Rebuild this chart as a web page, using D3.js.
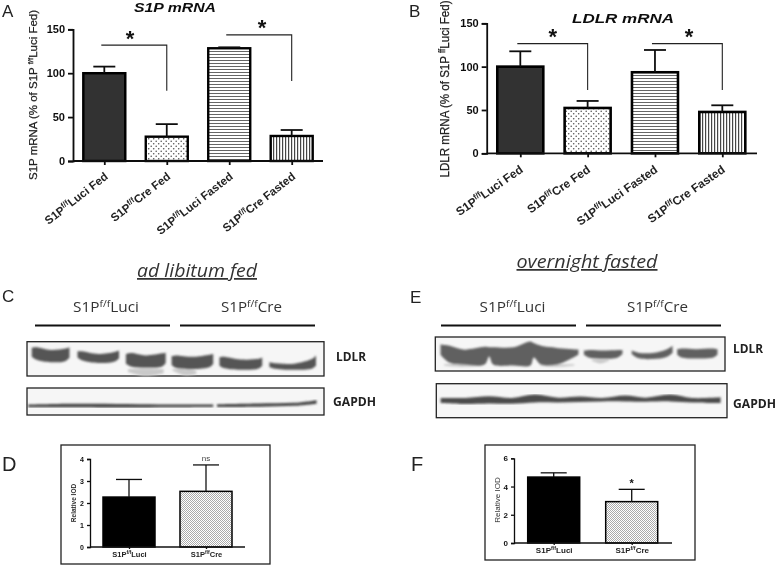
<!DOCTYPE html>
<html><head><meta charset="utf-8"><script src="https://cdn.jsdelivr.net/npm/d3@7"></script>
<style>html,body{margin:0;padding:0;background:#fff}svg{display:block}text{font-family:"Liberation Sans",Arial,sans-serif}</style>
</head><body><svg id="c" width="778" height="566"></svg>
<script>
// ---- data ----
const mrnaCategories = ["Luci Fed","Cre Fed","Luci Fasted","Cre Fasted"];
const s1pValues = [100,27.7,128.4,28.5];
const s1pErrorTops = [107.5,42,129.5,35.3];
const s1pBrackets = [[0,1,132,80],[2,3,143.6,91]];
const ldlrValues = [100,52.3,93.5,47.7];
const ldlrErrorTops = [117.7,60.4,119.2,55.4];
const ldlrBrackets = [[0,1,126.5,73],[2,3,126.5,73]];
const mrnaTicks = [0,50,100,150];
const iodCategories = ["Luci","Cre"];
const fedValues = [2.27,2.53];
const fedErrorTops = [3.07,3.73];
const fedTicks = [0,1,2,3,4];
const fastedValues = [4.67,2.93];
const fastedErrorTops = [4.97,3.8];
const fastedTicks = [0,2,4,6];
// blot bands: [lane %, upper edge %, lower edge %]
const blotCLdlr = [
 [[1.6,18,44],[3,16,52],[8,24,60],[13,20,56],[14.3,16,46]],
 [[17,28,46],[18.5,28,54],[24,36,62],[29.5,30,58],[31,26,48]],
 [[33.3,36,64],[35,33,72],[40,40,76],[45.5,34,72],[46.7,32,62]],
 [[48.7,42,68],[50,40,76],[56,44,80],[61.5,38,74],[62.7,36,64]],
 [[64.8,46,70],[66,44,76],[72,52,82],[78,50,78],[79.2,46,70]],
 [[81.6,60,74],[83,62,78],[90,64,82],[96,50,78],[97.3,40,70]]];
const blotCSmears = [[[34,80,88],[40,78,100],[46,80,92]],[[49,80,84],[53,80,98],[57,84,94]]];
const blotCGapdh = [
 [[0.4,61,71],[14.9,58,71],[33.7,59,72],[48,61,71],[62.7,61,70]],
 [[64,60,70],[78,57,69],[90,55,66],[97.5,45,58]]];
const blotELdlr = [
 [[1.8,22,52],[5,26,76],[9.6,37,81],[17,29,81],[18.6,30,57],[20,30,81],[27,30,84],[32.8,13,84],[34,18,60],[36.5,26,81],[42,32,81],[49.4,37,52]],
 [[51.3,40,52],[53,38,60],[58,40,64],[63,38,60],[64.6,38,50]],
 [[67.8,40,50],[70,46,62],[75,47,65],[80,36,58],[81.9,26,46]],
 [[83.5,36,52],[85,34,60],[90,36,63],[96,34,60],[97.4,36,52]]];
const blotESmears = [[[3,80,84],[9,78,88],[16,78,84]],[[36,80,84],[42,80,88],[48,80,84]],[[54,66,70],[57,66,78],[60,66,70]]];
const blotEGapdh = [[[1.5,42,57],[10,42,60],[18,37,58],[26,42,59],[34,32,55],[42,41,55],[49.5,38,54],[57,42,52],[65,35,52],[72,41,53],[80.5,32,52],[88,42,55],[97.8,40,57]]];
const s1pYLabel = ["S1P mRNA  (% of S1P ","f/f","Luci Fed)"];
const ldlrYLabel = ["LDLR mRNA  (% of S1P ","ff","Luci Fed)"];

// ---- helpers ----
const svg = d3.select("#c");
const defs = svg.append("defs");
function blur(id,s){defs.append("filter").attr("id",id).attr("x","-5%").attr("y","-5%").attr("width","110%").attr("height","110%")
  .append("feGaussianBlur").attr("stdDeviation",s);}
blur("soft",0.45); blur("soft2",0.6); blur("band",0.9);
function pattern(id,w,h,draw){const p=defs.append("pattern").attr("id",id).attr("patternUnits","userSpaceOnUse").attr("width",w).attr("height",h);
  p.append("rect").attr("width",w).attr("height",h).attr("fill","#fff");draw(p);}
pattern("dots",5,5,p=>{[[1.2,1.2],[3.7,3.7]].forEach(c=>p.append("circle").attr("cx",c[0]).attr("cy",c[1]).attr("r",.8).attr("fill","#555"));});
pattern("hstr",3,3,p=>p.append("rect").attr("width",3).attr("height",1).attr("fill","#666"));
pattern("vstr",3,3,p=>p.append("rect").attr("width",1.2).attr("height",3).attr("fill","#444"));
pattern("fine",2,2,p=>{p.append("rect").attr("width",1).attr("height",1).attr("fill","#aaa");p.append("rect").attr("x",1).attr("y",1).attr("width",1).attr("height",1).attr("fill","#aaa");});

function sup(t,pre,s,post,size){t.text(null);
  t.append("tspan").text(pre);
  t.append("tspan").attr("dy",-size*0.35).attr("font-size",size*0.68).text(s);
  t.append("tspan").attr("dy",size*0.35).text(post);}

function barPanel(o){
  const g=svg.append("g").attr("filter",`url(#${o.filter})`);
  const x=d3.scalePoint().domain(o.cats).range(o.xr);
  const y=d3.scaleLinear().domain(o.yd).range(o.yr);
  g.selectAll("rect.b").data(o.vals).join("rect").attr("class","b")
    .attr("x",(d,i)=>x(o.cats[i])-o.bw/2).attr("width",o.bw)
    .attr("y",d=>y(d)).attr("height",d=>y(0)-y(d))
    .attr("fill",(d,i)=>o.fills[i]).attr("stroke","#000").attr("stroke-width",o.sw);
  o.errs.forEach((e,i)=>{const c=x(o.cats[i]);
    g.append("line").attr("x1",c).attr("x2",c).attr("y1",y(o.vals[i])).attr("y2",y(e)).attr("stroke","#111").attr("stroke-width",o.esw);
    g.append("line").attr("x1",c-o.cap).attr("x2",c+o.cap).attr("y1",y(e)).attr("y2",y(e)).attr("stroke","#111").attr("stroke-width",o.esw);});
  const ya=d3.axisLeft(y).tickValues(o.ticks).tickSize(o.tick).tickFormat(d3.format("d"));
  const ag=g.append("g").attr("transform",`translate(${o.ax},0)`).call(ya);
  ag.select(".domain").attr("stroke","#111").attr("stroke-width",o.esw);
  ag.selectAll("line").attr("stroke","#111").attr("stroke-width",o.esw);
  ag.selectAll("text").attr("font-size",o.tfs).attr("font-weight","bold").attr("fill","#111");
  const xa=d3.axisBottom(x).tickSize(o.xtick).tickSizeOuter(0);
  const bg=g.append("g").attr("transform",`translate(0,${y(0)})`).call(xa);
  bg.select(".domain").attr("d",`M${o.ax},0H${o.xe}`).attr("stroke","#111").attr("stroke-width",o.esw);
  bg.selectAll("line").attr("stroke","#111").attr("stroke-width",o.esw);
  bg.selectAll("text").attr("font-size",o.xfs).attr("font-weight","bold").attr("fill","#222").each(function(d){
    const t=d3.select(this);
    sup(t,"S1P",o.supText,d,o.xfs);
    if(o.rot){t.attr("text-anchor","end").attr("transform",`translate(${o.rot[0]},${o.rot[1]}) rotate(${o.rot[2]})`).attr("dy",0).attr("y",0).attr("x",0);}
    else t.attr("y",o.xly).attr("dy",0);
  });
  return {g,x,y};
}
function brackets(p,list,dx){list.forEach(b=>{const a=p.x(p.x.domain()[b[0]])+dx[0],e=p.x(p.x.domain()[b[1]])+dx[1];
  p.g.append("path").attr("fill","none").attr("stroke","#222").attr("stroke-width",1.1)
   .attr("d",d3.line()([[a,p.y(b[2])],[e,p.y(b[2])],[e,p.y(b[3])]]));});}
function label(txt,x,y,size,opt={}){const t=svg.append("text").attr("x",x).attr("y",y).attr("font-size",size).attr("fill",opt.fill||"#111").text(txt);
  if(opt.weight)t.attr("font-weight",opt.weight); if(opt.style)t.attr("font-style",opt.style); if(opt.anchor)t.attr("text-anchor",opt.anchor);
  if(opt.family)t.style("font-family",opt.family); if(opt.len)t.attr("textLength",opt.len).attr("lengthAdjust","spacingAndGlyphs");
  if(opt.deco)t.attr("text-decoration",opt.deco); if(opt.rot)t.attr("transform",`rotate(${opt.rot} ${x} ${y})`); if(opt.filter)t.attr("filter",`url(#${opt.filter})`);
  return t;}
function yLabel(parts,x,y,size,len){const t=label("",x,y,size,{rot:-90,filter:"soft",fill:"#222",anchor:"middle",len}).attr("stroke","#222").attr("stroke-width",0.25);sup(t,parts[0],parts[1],parts[2],size);}

// ---- panels A,B ----
const mrnaFills=["#333","url(#dots)","url(#hstr)","url(#vstr)"];
const pA=barPanel({cats:mrnaCategories,vals:s1pValues,errs:s1pErrorTops,xr:[104.3,291.7],yd:[0,150],yr:[161,29.3],bw:42,sw:2.4,esw:1.8,cap:11,ticks:mrnaTicks,ax:73,xe:323,tick:5,xtick:4,tfs:11,xfs:11.5,fills:mrnaFills,filter:"soft",supText:"f/f",rot:[4,17,-38]});
brackets(pA,s1pBrackets,[-3,0]);
const pB=barPanel({cats:mrnaCategories,vals:ldlrValues,errs:ldlrErrorTops,xr:[520.3,722.3],yd:[0,150],yr:[153.3,23.3],bw:46,sw:2.6,esw:1.8,cap:11,ticks:mrnaTicks,ax:486.7,xe:757,tick:5,xtick:4,tfs:11,xfs:11.8,fills:mrnaFills,filter:"soft",supText:"f/f",rot:[3,18,-35]});
brackets(pB,ldlrBrackets,[-3,0]);
[[130,46],[262,35],[552.7,44],[689,44]].forEach(s=>label("*",s[0],s[1],22,{weight:"bold",anchor:"middle",fill:"#111"}));
label("S1P mRNA",175,12,12.5,{weight:"bold",style:"italic",anchor:"middle",len:82,filter:"soft"});
label("LDLR mRNA",623,23,12.5,{weight:"bold",style:"italic",anchor:"middle",len:102,filter:"soft"});
yLabel(s1pYLabel,37,95,11.5,170);
yLabel(ldlrYLabel,449,89,12,177);

// ---- panel letters ----
[["A",2,16.5,17],["B",409,17,17],["C",2,302,17],["E",410,302.5,17],["D",2,470.5,20],["F",411,471,20]].forEach(l=>label(l[0],l[1],l[2],l[3],{fill:"#222"}));

// ---- blots ----
function blot(box,bands,smears,fill){
  const g=svg.append("g");
  g.append("rect").attr("x",box[0]).attr("y",box[1]).attr("width",box[2]-box[0]).attr("height",box[3]-box[1]).attr("fill","#f6f6f6").attr("stroke","#222").attr("stroke-width",1.3);
  const x=d3.scaleLinear().domain([0,100]).range([box[0],box[2]]);
  const y=d3.scaleLinear().domain([0,100]).range([box[1],box[3]]);
  const a=d3.area().x(d=>x(d[0])).y0(d=>y(d[1])).y1(d=>y(d[2])).curve(d3.curveCatmullRom);
  const inner=g.append("g").attr("filter","url(#band)");
  inner.selectAll("path.s").data(smears).join("path").attr("class","s").attr("d",a).attr("fill","#c9c9c9");
  inner.selectAll("path.b").data(bands).join("path").attr("class","b").attr("d",a).attr("fill",fill);
}
blot([27,341.7,324,376],blotCLdlr,blotCSmears,"#555");
blot([27,388,324,415],blotCGapdh,[],"#444");
blot([435.3,337,725,371],blotELdlr,blotESmears,"#606060");
blot([436.3,383.7,727,417.7],blotEGapdh,[],"#4c4c4c");

const blotFont='"Open Sans","Noto Sans",sans-serif';
label("ad libitum fed",197,277,17.5,{style:"italic",anchor:"middle",family:blotFont,deco:"underline",fill:"#333",len:120});
label("overnight fasted",587,268,17.5,{style:"italic",anchor:"middle",family:blotFont,deco:"underline",fill:"#333",len:141});
function grp(pre,s,post,x,y,len){const t=label("",x,y,14.5,{family:blotFont,fill:"#333",anchor:"middle",len});sup(t,pre,s,post,14.5);}
grp("S1P","f/f","Luci",106,312,66);grp("S1P","f/f","Cre",251.5,312,61);
grp("S1P","f/f","Luci",512.5,312,66);grp("S1P","f/f","Cre",657.5,312,61);
const groupLines=d3.line();
[[35,170],[180,315],[441,576],[586,721]].forEach(l=>svg.append("path").attr("d",groupLines([[l[0],325.5],[l[1],325.5]])).attr("stroke","#111").attr("stroke-width",2));
[["LDLR",336,361,30],["GAPDH",333,405.5,43],["LDLR",733,353,30],["GAPDH",733,408,43]].forEach(l=>label(l[0],l[1],l[2],11.5,{weight:"bold",fill:"#222",family:blotFont,len:l[3]}));

// ---- panels D,F ----
[[61,445,270,564],[485,445,695,560]].forEach(b=>svg.append("rect").attr("x",b[0]).attr("y",b[1]).attr("width",b[2]-b[0]).attr("height",b[3]-b[1]).attr("fill","none").attr("stroke","#222").attr("stroke-width",1.3));
const iodFills=["#000","url(#fine)"];
barPanel({cats:iodCategories,vals:fedValues,errs:fedErrorTops,xr:[129,206],yd:[0,4],yr:[547,459],bw:52,sw:1.5,esw:1.3,cap:13,ticks:fedTicks,ax:90,xe:245,tick:3,xtick:2,tfs:7,xfs:7.5,fills:iodFills,filter:"soft2",supText:"f/f",xly:10});
barPanel({cats:iodCategories,vals:fastedValues,errs:fastedErrorTops,xr:[553.7,631.7],yd:[0,6],yr:[543,458.3],bw:52,sw:1.5,esw:1.3,cap:13,ticks:fastedTicks,ax:514,xe:672,tick:3,xtick:2,tfs:8,xfs:8,fills:iodFills,filter:"soft2",supText:"f/f",xly:10});
label("Relative IOD",76,503,6.5,{rot:-90,anchor:"middle",filter:"soft2",fill:"#333",weight:"bold"});
label("Relative IOD",500,500,8,{rot:-90,anchor:"middle",filter:"soft2",fill:"#333"});
label("ns",206,461,8,{anchor:"middle",filter:"soft2",fill:"#444"});
label("*",631.7,487,11,{anchor:"middle",weight:"bold",filter:"soft2"});
</script></body></html>
